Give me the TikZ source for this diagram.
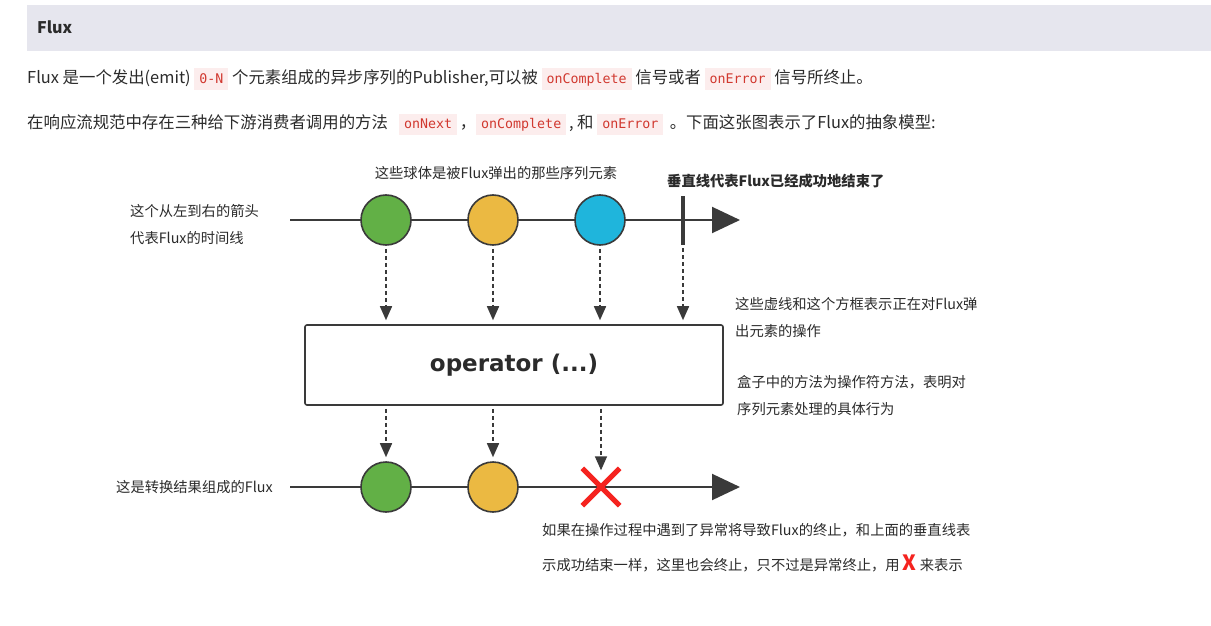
\documentclass[tikz,border=0pt]{standalone}
\usepackage{fontspec}
\setmainfont{Noto Sans CJK SC}
\setmonofont{DejaVu Sans Mono}
\newfontfamily\opfont{DejaVu Sans}
\usetikzlibrary{arrows.meta}
\definecolor{hdr}{HTML}{E6E6EE}
\definecolor{codebg}{HTML}{FCEDED}
\definecolor{codefg}{HTML}{D1382F}
\definecolor{txt}{HTML}{2B2B2B}
\definecolor{ln}{HTML}{3A3A3A}
\definecolor{gball}{HTML}{62B046}
\definecolor{yball}{HTML}{EBB942}
\definecolor{bball}{HTML}{1FB5DC}
\definecolor{xred}{HTML}{F5231F}
\newcommand\code[1]{{\setlength{\fboxsep}{0pt}\colorbox{codebg}{\rule[-6pt]{0pt}{21pt}\hspace{5pt}\ttfamily\color{codefg}\fontsize{13.3}{15}\selectfont #1\hspace{5pt}}}}
\begin{document}
\begin{tikzpicture}[x=1pt,y=-1pt,
  ball/.style={circle,draw=ln,line width=1.6pt,minimum size=50pt,inner sep=0pt},
  tl/.style={draw=ln,line width=2pt,-{Triangle[length=28pt,width=26pt]}},
  da/.style={draw=ln,line width=1.6pt,dash pattern=on 4pt off 3pt,-{Triangle[length=14pt,width=12pt]}},
  lbl/.style={font=\fontsize{14.3}{17}\selectfont,text=txt,inner sep=0pt},
  body/.style={font=\fontsize{16.4}{18}\selectfont,text=txt,inner sep=0pt,anchor=west},
  xmark/.style={draw=xred,line width=5pt}]
\useasboundingbox (0,0) rectangle (1211,626);
\fill[white] (0,0) rectangle (1211,626);
% header
\fill[hdr] (27,5) rectangle (1211,51);
\node[body,font=\fontsize{16}{18}\selectfont\bfseries] (hd) at (37,27) {Flux};
\node[body] (p1) at (27,79) {Flux 是一个发出(emit)\ \code{0-N}\ 个元素组成的异步序列的Publisher,可以被\ \code{onComplete}\ 信号或者\ \code{onError}\ 信号所终止。};
\node[body] (p2) at (27,124) {在响应流规范中存在三种给下游消费者调用的方法\ \ \ \code{onNext}\,，\code{onComplete}\,,\ 和\ \code{onError}\ \,。下面这张图表示了Flux的抽象模型:};
% top timeline
\coordinate (t0) at (290,220);
\coordinate (t1) at (740,220);
\draw[tl] (t0) -- (t1);
\node[ball,fill=gball] (c1) at (386,220) {};
\node[ball,fill=yball] (c2) at (493,220) {};
\node[ball,fill=bball] (c3) at (600,220) {};
\coordinate (e1) at (683,196);
\coordinate (e2) at (683,245);
\draw[ln,line width=4pt] (e1) -- (e2);
% operator box
\node[draw=ln,line width=1.6pt,rounded corners=2pt,minimum width=418pt,minimum height=80pt,inner sep=0pt] (op) at (514,365) {\opfont\bfseries\fontsize{23}{26}\selectfont\color{txt}operator (...)};
\draw[da] ([yshift=-3pt]c1.south) -- ([yshift=4pt]c1.south |- op.north);
\draw[da] ([yshift=-3pt]c2.south) -- ([yshift=4pt]c2.south |- op.north);
\draw[da] ([yshift=-3pt]c3.south) -- ([yshift=4pt]c3.south |- op.north);
\draw[da] ([yshift=-3pt]e2) -- ([yshift=4pt]e2 |- op.north);
% bottom timeline
\coordinate (u0) at (290,487);
\coordinate (u1) at (740,487);
\draw[tl] (u0) -- (u1);
\node[ball,fill=gball] (b1) at (386,487) {};
\node[ball,fill=yball] (b2) at (493,487) {};
\node[minimum width=37pt,minimum height=37pt,inner sep=0pt] (x) at (601,487) {};
\draw[xmark] (x.north west) -- (x.south east);
\draw[xmark] (x.south west) -- (x.north east);
\draw[da] ([yshift=-3pt]b1.north |- op.south) -- ([yshift=4pt]b1.north);
\draw[da] ([yshift=-3pt]b2.north |- op.south) -- ([yshift=4pt]b2.north);
\draw[da] ([yshift=-3pt]x.north |- op.south) -- ([yshift=-2pt]x.north);
% labels
\node[lbl] (l1) at (496,173) {这些球体是被Flux弹出的那些序列元素};
\node[lbl,anchor=west,font=\fontsize{14.3}{17}\selectfont\bfseries] (l2) at (667,181) {垂直线代表Flux已经成功地结束了};
\node[lbl,anchor=west] (l3) at (130,211) {这个从左到右的箭头};
\node[lbl,anchor=west] (l4) at (130,238) {代表Flux的时间线};
\node[lbl,anchor=west] (l5) at (735,304) {这些虚线和这个方框表示正在对Flux弹};
\node[lbl,anchor=west] (l6) at (735,331) {出元素的操作};
\node[lbl,anchor=west] (l7) at (737,382) {盒子中的方法为操作符方法，表明对};
\node[lbl,anchor=west] (l8) at (737,409) {序列元素处理的具体行为};
\node[lbl,anchor=west] (l9) at (116,487) {这是转换结果组成的Flux};
\node[lbl,anchor=west] (l10) at (542,530) {如果在操作过程中遇到了异常将导致Flux的终止，和上面的垂直线表};
\node[lbl,anchor=west] (l11) at (542,563) {示成功结束一样，这里也会终止，只不过是异常终止，用 {\color{xred}\bfseries\fontsize{21}{21}\selectfont X} 来表示};
\end{tikzpicture}
\end{document}
